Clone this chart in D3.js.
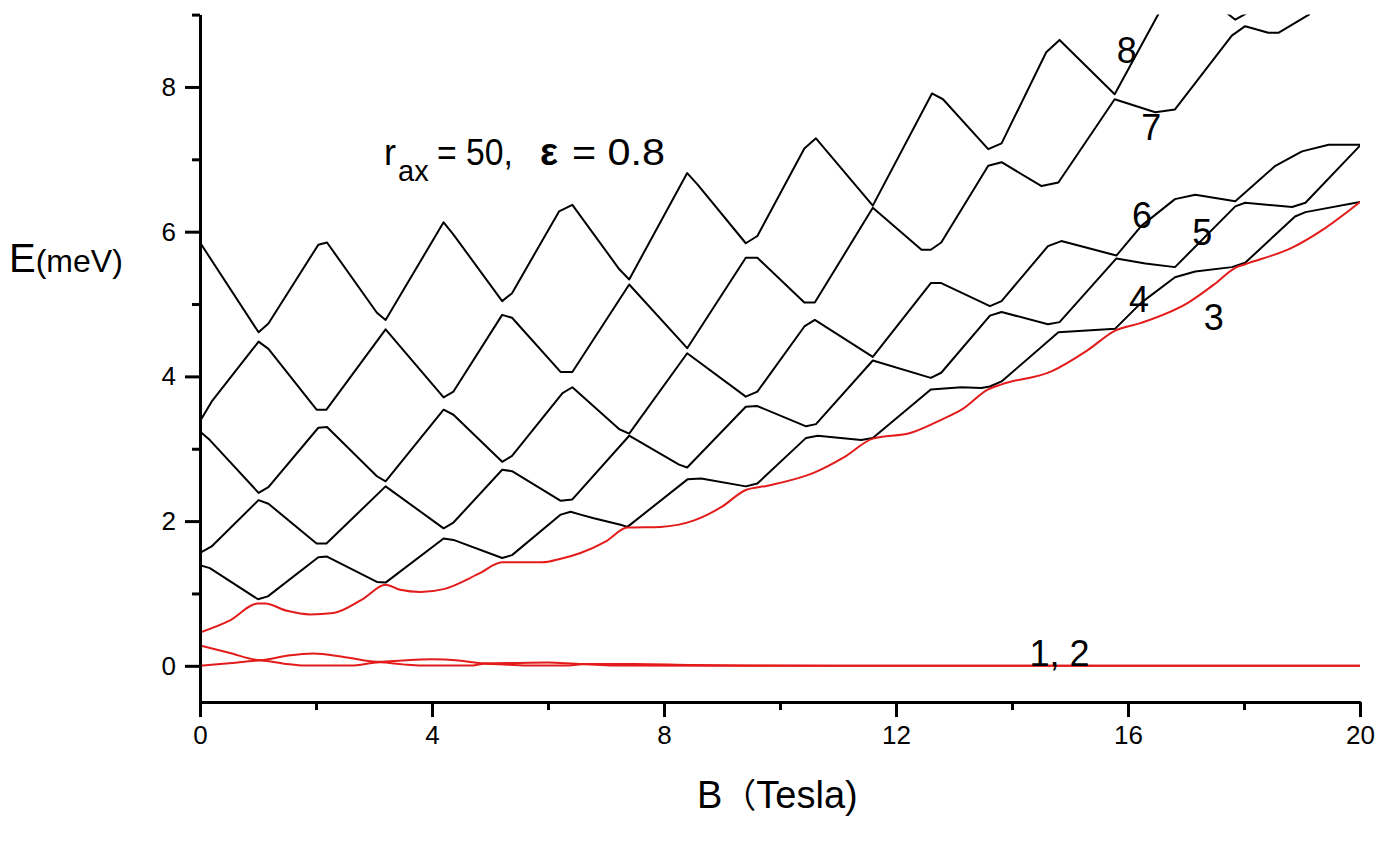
<!DOCTYPE html>
<html>
<head>
<meta charset="utf-8">
<script src="https://cdn.jsdelivr.net/npm/d3@7/dist/d3.min.js"></script>
<style>
  html, body { margin: 0; padding: 0; background: #fff; }
  svg { display: block; }
  text { font-family: "Liberation Sans", Arial, sans-serif; fill: #000; }
</style>
</head>
<body>
<svg id="chart" width="1385" height="865"></svg>
<script>
// ---------- data (B in Tesla, E in meV) ----------
const xTicksMajor = [0, 4, 8, 12, 16, 20];
const xTicksMinor = [2, 6, 10, 14, 18];
const yTicksMajor = [0, 2, 4, 6, 8];
const yTicksMinor = [1, 3, 5, 7, 9];

// red levels
const level1 = [[0,0],[0.5,0.035],[1.04,0.072],[1.45,0.03],[1.8,0.003],[2.6,0.003],[3.1,0.05],[3.5,0.02],[3.8,0.004],[4.7,0.004],[4.9,0.03],[5.3,0.015],[5.7,0.003],[6.3,0.003],[6.6,0.02],[7.2,0.005],[9,0.002],[20,0]];
const level2 = [[0,0.28],[0.5,0.18],[1.04,0.08],[1.5,0.14],[1.95,0.17],[2.5,0.12],[3.1,0.055],[3.5,0.075],[4.0,0.09],[4.5,0.07],[4.9,0.035],[5.5,0.04],[6.0,0.045],[6.6,0.025],[7.5,0.025],[8.5,0.01],[9.5,0.004],[11,0.001],[20,0]];
const level3 = [[0,0.46],[0.5,0.62],[1.0,0.86],[1.12,0.86],[1.5,0.76],[1.9,0.71],[2.3,0.73],[2.8,0.92],[3.2,1.12],[3.45,1.05],[3.8,1.02],[4.2,1.06],[4.8,1.27],[5.21,1.43],[5.9,1.43],[6.22,1.48],[6.56,1.56],[7.0,1.72],[7.37,1.91],[7.94,1.92],[8.52,2.01],[9.0,2.2],[9.41,2.43],[9.79,2.49],[10.59,2.67],[11.1,2.88],[11.6,3.14],[12.26,3.22],[12.78,3.40],[13.13,3.54],[13.59,3.82],[13.82,3.89],[14.68,4.07],[15.3,4.36],[15.77,4.63],[16.23,4.74],[17.04,5.02],[17.5,5.28],[17.85,5.50],[18.02,5.55],[18.83,5.78],[19.4,6.05],[20,6.41]];

// black levels
const level4 = [[0,1.39],[0.17,1.35],[1.0,0.92],[1.17,0.96],[2.04,1.50],[2.19,1.51],[3.05,1.16],[3.2,1.15],[4.2,1.76],[4.37,1.74],[5.21,1.49],[5.38,1.53],[6.22,2.09],[6.39,2.13],[6.56,2.09],[6.79,2.04],[7.25,1.95],[7.37,1.92],[8.41,2.58],[8.64,2.59],[9.41,2.48],[9.61,2.52],[10.45,3.15],[10.65,3.18],[11.4,3.12],[11.6,3.15],[12.6,3.82],[13.13,3.85],[13.47,3.84],[13.62,3.86],[13.82,3.93],[14.8,4.61],[15.78,4.66],[16.23,5.02],[16.81,5.37],[17.16,5.45],[17.79,5.51],[18.02,5.57],[18.88,6.21],[19.06,6.27],[20,6.41]];
const level5 = [[0,1.56],[0.2,1.65],[1.01,2.29],[1.18,2.24],[2.01,1.69],[2.18,1.69],[3.2,2.48],[4.2,1.90],[4.37,1.98],[5.21,2.71],[5.38,2.69],[6.22,2.28],[6.42,2.30],[7.4,3.18],[8.26,2.78],[8.4,2.74],[9.41,3.58],[9.61,3.59],[10.45,3.31],[10.62,3.34],[11.6,4.22],[12.6,3.98],[12.78,4.05],[13.62,4.84],[13.82,4.89],[14.62,4.72],[14.82,4.75],[15.8,5.63],[16.3,5.56],[16.81,5.51],[17.85,6.35],[18.02,6.40],[18.83,6.34],[19.06,6.40],[20,7.19]];
const level6 = [[0,3.24],[0.17,3.12],[1.01,2.39],[1.18,2.47],[2.04,3.29],[2.19,3.30],[3.05,2.62],[3.2,2.55],[4.2,3.54],[4.37,3.47],[5.21,2.82],[5.38,2.90],[6.25,3.77],[6.42,3.85],[7.23,3.27],[7.4,3.21],[8.4,4.32],[9.41,3.72],[9.61,3.79],[10.42,4.69],[10.6,4.78],[11.6,4.27],[12.6,5.29],[12.78,5.29],[13.62,4.97],[13.82,5.04],[14.62,5.80],[14.85,5.87],[15.8,5.67],[16.23,6.08],[16.81,6.45],[17.16,6.51],[17.85,6.42],[18.54,6.91],[19.0,7.11],[19.46,7.20],[20,7.20]];
const level7 = [[0,3.38],[0.2,3.65],[1.01,4.48],[1.18,4.38],[2.01,3.54],[2.18,3.54],[3.2,4.65],[4.2,3.71],[4.37,3.79],[5.21,4.85],[5.38,4.81],[6.22,4.06],[6.42,4.06],[7.4,5.27],[8.4,4.39],[9.41,5.64],[9.61,5.64],[10.42,5.02],[10.6,5.02],[11.6,6.33],[12.44,5.75],[12.6,5.75],[12.78,5.85],[13.59,6.91],[13.82,6.96],[14.51,6.63],[14.8,6.68],[15.77,7.83],[16.47,7.65],[16.81,7.69],[17.79,8.71],[18.02,8.84],[18.42,8.75],[18.6,8.75],[19.12,9.0],[19.5,9.4]];
const level8 = [[0,5.85],[1.01,4.61],[1.18,4.73],[2.04,5.82],[2.19,5.85],[3.05,4.88],[3.2,4.78],[4.2,6.13],[4.37,5.96],[5.21,5.04],[5.38,5.15],[6.19,6.28],[6.42,6.37],[7.23,5.48],[7.4,5.34],[8.4,6.81],[8.58,6.65],[9.41,5.84],[9.61,5.94],[10.42,7.15],[10.62,7.29],[11.6,6.36],[12.62,7.91],[12.81,7.83],[13.59,7.14],[13.82,7.22],[14.59,8.48],[14.82,8.65],[15.77,7.90],[16.52,9.0],[16.8,9.4]];
const level9 = [[17.5,9.15],[17.85,8.93],[18.05,9.02],[18.3,9.2]];

const levelLabels = [
  {text: "8", B: 15.98, E: 8.33},
  {text: "7", B: 16.40, E: 7.27},
  {text: "6", B: 16.24, E: 6.05},
  {text: "5", B: 17.28, E: 5.82},
  {text: "4", B: 16.19, E: 4.89},
  {text: "3", B: 17.48, E: 4.64}
];

// ---------- drawing ----------
const svg = d3.select("#chart");
const x = d3.scaleLinear().domain([0, 20]).range([200, 1360]);
const y = d3.scaleLinear().domain([-0.5, 9]).range([702, 14.6]);

svg.append("clipPath").attr("id", "plotclip")
  .append("rect")
  .attr("x", x(0)).attr("y", y(9))
  .attr("width", x(20) - x(0)).attr("height", y(-0.5) - y(9));

const plot = svg.append("g").attr("clip-path", "url(#plotclip)");

const lineLin = d3.line().x(d => x(d[0])).y(d => y(d[1])).curve(d3.curveLinear);
const lineSmooth = d3.line().x(d => x(d[0])).y(d => y(d[1])).curve(d3.curveMonotoneX);

[level4, level5, level6, level7, level8, level9].forEach(lv => {
  plot.append("path").datum(lv)
    .attr("d", lineLin)
    .attr("fill", "none").attr("stroke", "#000")
    .attr("stroke-width", 2).attr("stroke-linejoin", "round");
});
[level1, level2, level3].forEach(lv => {
  plot.append("path").datum(lv)
    .attr("d", lineSmooth)
    .attr("fill", "none").attr("stroke", "#e31b1b")
    .attr("stroke-width", 2).attr("stroke-linejoin", "round");
});

// axes
function styleAxis(g) {
  g.select(".domain").attr("stroke", "#000").attr("stroke-width", 3);
  g.selectAll(".tick line").attr("stroke", "#000").attr("stroke-width", 3);
  g.selectAll(".tick text").style("font-family", '"Liberation Sans", Arial, sans-serif')
    .style("font-size", "26px").attr("fill", "#000");
}

svg.append("g").attr("transform", `translate(0,${y(-0.5)})`)
  .call(d3.axisBottom(x).tickValues(xTicksMinor).tickSize(8).tickSizeOuter(0).tickFormat(""))
  .call(styleAxis);
svg.append("g").attr("transform", `translate(0,${y(-0.5)})`)
  .call(d3.axisBottom(x).tickValues(xTicksMajor).tickSize(15).tickSizeOuter(0).tickPadding(9).tickFormat(d3.format("d")))
  .call(styleAxis);

svg.append("g").attr("transform", `translate(${x(0)},0)`)
  .call(d3.axisLeft(y).tickValues(yTicksMinor).tickSize(8).tickSizeOuter(0).tickFormat(""))
  .call(styleAxis);
svg.append("g").attr("transform", `translate(${x(0)},0)`)
  .call(d3.axisLeft(y).tickValues(yTicksMajor).tickSize(15).tickSizeOuter(0).tickPadding(9).tickFormat(d3.format("d")))
  .call(styleAxis);

// axis titles
const yt = svg.append("text").attr("x", 9).attr("y", 272);
yt.append("tspan").style("font-size", "40px").text("E");
yt.append("tspan").style("font-size", "32px").text("(meV)");

const xt = svg.append("text").attr("x", 697).attr("y", 808).style("font-size", "38px");
xt.append("tspan").text("B");
xt.append("tspan").style("font-family", '"Noto Sans CJK SC", sans-serif').style("font-size", "34px").text("（");
xt.append("tspan").text("Tesla)");

// parameter annotation
svg.append("text").attr("x", 384).attr("y", 165).style("font-size", "36px").text("r");
svg.append("text").attr("x", 398).attr("y", 181).style("font-size", "29px").text("ax");
svg.append("text").attr("x", 437).attr("y", 165).style("font-size", "36px")
  .attr("textLength", 76).attr("lengthAdjust", "spacingAndGlyphs").text("= 50,");
svg.append("text").attr("x", 540).attr("y", 165).style("font-size", "38px").style("font-weight", "bold").text("ε");
svg.append("text").attr("x", 572).attr("y", 165).style("font-size", "36px")
  .attr("textLength", 93).attr("lengthAdjust", "spacingAndGlyphs").text("= 0.8");

// level labels
svg.selectAll(".lvl").data(levelLabels).enter().append("text")
  .attr("class", "lvl")
  .attr("x", d => x(d.B)).attr("y", d => y(d.E))
  .attr("text-anchor", "middle")
  .style("font-size", "36px")
  .text(d => d.text);
svg.append("text").attr("x", x(14.3)).attr("y", y(0)).style("font-size", "36px").text("1, 2");
</script>
</body>
</html>
